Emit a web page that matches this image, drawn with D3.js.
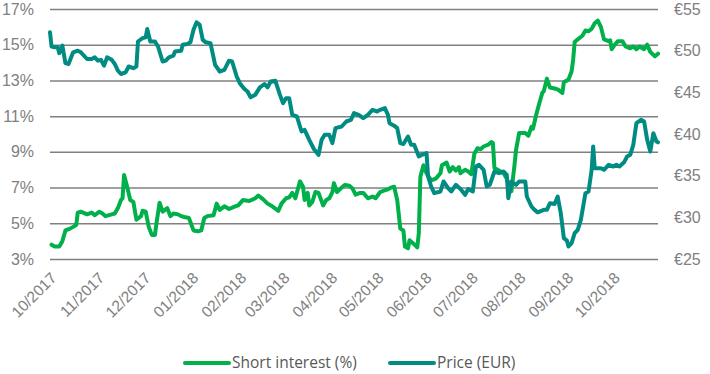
<!DOCTYPE html>
<html>
<head>
  <meta charset="utf-8">
  <style>
body {
  margin: 0;
  background: #fff;
}

svg {
  font-family: "Open Sans", sans-serif;
}

.grid line {
  stroke: #808080;
  stroke-width: 1.5;
}

.axis text {
  fill: #808080;
  font-size: 16px;
}

.month text {
  font-size: 15.5px;
}

.legend text {
  fill: #595959;
  font-size: 15.5px;
}
  </style>
</head>
<body>
  <svg id="chart" width="710" height="374"></svg>
  <script src="https://cdn.jsdelivr.net/npm/d3@7"></script>
  <script>
// Short interest (%)
var shortDates = [
  "2017-10-02","2017-10-04","2017-10-07","2017-10-09","2017-10-11","2017-10-14","2017-10-16","2017-10-18",
  "2017-10-19","2017-10-21","2017-10-25","2017-10-28","2017-10-30","2017-11-02","2017-11-04","2017-11-06",
  "2017-11-10","2017-11-12","2017-11-14","2017-11-16","2017-11-17","2017-11-18","2017-11-20","2017-11-22",
  "2017-11-24","2017-11-26","2017-11-29","2017-11-30","2017-12-02","2017-12-04","2017-12-06","2017-12-08",
  "2017-12-09","2017-12-11","2017-12-13","2017-12-16","2017-12-18","2017-12-20","2017-12-23","2017-12-25",
  "2017-12-27","2017-12-30","2018-01-02","2018-01-05","2018-01-07","2018-01-09","2018-01-11","2018-01-15",
  "2018-01-17","2018-01-19","2018-01-22","2018-01-25","2018-01-29","2018-01-31","2018-02-03","2018-02-07",
  "2018-02-11","2018-02-13","2018-02-16","2018-02-19","2018-02-22","2018-02-26","2018-02-28","2018-03-03",
  "2018-03-05","2018-03-07","2018-03-09","2018-03-12","2018-03-14","2018-03-15","2018-03-17","2018-03-18",
  "2018-03-20","2018-03-22","2018-03-24","2018-03-27","2018-03-29","2018-03-31","2018-04-02","2018-04-03",
  "2018-04-05","2018-04-08","2018-04-10","2018-04-13","2018-04-15","2018-04-17","2018-04-20","2018-04-22",
  "2018-04-25","2018-04-28","2018-04-30","2018-05-03","2018-05-06","2018-05-08","2018-05-10","2018-05-12",
  "2018-05-14","2018-05-16","2018-05-18","2018-05-19","2018-05-21","2018-05-22","2018-05-24","2018-05-27",
  "2018-05-28","2018-05-29","2018-05-31","2018-06-02","2018-06-05","2018-06-08","2018-06-11","2018-06-12",
  "2018-06-15","2018-06-17","2018-06-19","2018-06-21","2018-06-23","2018-06-24","2018-06-27","2018-06-29",
  "2018-07-01","2018-07-03","2018-07-05","2018-07-07","2018-07-09","2018-07-12","2018-07-14","2018-07-15",
  "2018-07-16","2018-07-18","2018-07-22","2018-07-24","2018-07-25","2018-07-27","2018-07-29","2018-07-30",
  "2018-08-01","2018-08-05","2018-08-07","2018-08-09","2018-08-10","2018-08-12","2018-08-14","2018-08-16",
  "2018-08-17","2018-08-19","2018-08-21","2018-08-24","2018-08-26","2018-08-29","2018-08-30","2018-09-02",
  "2018-09-04","2018-09-05","2018-09-06","2018-09-08","2018-09-11","2018-09-13","2018-09-15","2018-09-17",
  "2018-09-19","2018-09-21","2018-09-23","2018-09-25","2018-09-28","2018-09-29","2018-09-30","2018-10-02",
  "2018-10-04","2018-10-07","2018-10-09","2018-10-12","2018-10-14","2018-10-16","2018-10-18","2018-10-21",
  "2018-10-23","2018-10-25","2018-10-28","2018-10-30"
];
var shortPct = [
  3.8, 3.7, 3.7, 4.0, 4.6, 4.7, 4.8, 4.9,
  5.6, 5.65, 5.5, 5.6, 5.45, 5.65, 5.55, 5.4,
  5.5, 5.55, 5.85, 6.3, 6.4, 7.7, 7.05, 6.3,
  6.2, 5.2, 5.4, 5.7, 5.65, 4.8, 4.35, 4.35,
  5.0, 6.15, 5.65, 5.85, 5.4, 5.55, 5.5, 5.4,
  5.35, 5.3, 4.6, 4.55, 4.6, 5.3, 5.4, 5.45,
  6.1, 5.75, 5.95, 5.8, 5.95, 6.0, 6.3, 6.25,
  6.4, 6.55, 6.35, 6.1, 5.95, 5.7, 6.1, 6.4,
  6.45, 6.7, 6.4, 7.35, 7.05, 6.3, 6.7, 6.0,
  6.2, 6.75, 6.7, 6.0, 6.3, 6.4, 6.75, 7.25,
  6.75, 7.0, 7.15, 7.1, 6.95, 6.6, 6.7, 6.7,
  6.4, 6.5, 6.4, 6.75, 6.85, 6.9, 7.0, 7.05,
  6.3, 4.7, 4.6, 3.7, 3.6, 4.05, 3.9, 3.65,
  4.45, 7.6, 8.25, 7.8, 7.4, 7.5, 7.8, 8.25,
  8.4, 7.9, 8.15, 7.95, 8.15, 7.8, 8.0, 7.9,
  7.75, 8.9, 9.2, 9.15, 9.3, 9.4, 9.55, 9.5,
  8.1, 8.0, 7.8, 7.5, 7.25, 6.8, 8.25, 9.1,
  10.05, 10.05, 9.9, 10.4, 10.3, 11.05, 11.7, 12.3,
  12.4, 13.1, 12.6, 12.55, 12.5, 12.3, 12.9, 13.05,
  13.5, 14.15, 15.15, 15.3, 15.5, 15.8, 15.75, 15.9,
  16.2, 16.35, 16.0, 15.3, 15.2, 15.25, 14.75, 15.0,
  15.2, 15.2, 14.9, 14.8, 14.9, 14.75, 14.9, 14.75,
  15.0, 14.6, 14.35, 14.5
];

// Price (EUR)
var priceDates = [
  "2017-10-01","2017-10-02","2017-10-04","2017-10-06","2017-10-07","2017-10-09","2017-10-11","2017-10-13",
  "2017-10-16","2017-10-19","2017-10-21","2017-10-25","2017-10-28","2017-10-30","2017-11-01","2017-11-03",
  "2017-11-05","2017-11-07","2017-11-10","2017-11-12","2017-11-14","2017-11-16","2017-11-19","2017-11-21",
  "2017-11-24","2017-11-26","2017-11-27","2017-11-30","2017-12-02","2017-12-03","2017-12-05","2017-12-08",
  "2017-12-10","2017-12-13","2017-12-15","2017-12-17","2017-12-20","2017-12-21","2017-12-25","2017-12-26",
  "2017-12-29","2017-12-31","2018-01-02","2018-01-04","2018-01-06","2018-01-08","2018-01-10","2018-01-13",
  "2018-01-16","2018-01-19","2018-01-22","2018-01-25","2018-01-27","2018-01-30","2018-02-01","2018-02-04",
  "2018-02-06","2018-02-08","2018-02-11","2018-02-14","2018-02-17","2018-02-19","2018-02-21","2018-02-24",
  "2018-02-27","2018-03-01","2018-03-03","2018-03-05","2018-03-07","2018-03-10","2018-03-13","2018-03-15",
  "2018-03-18","2018-03-21","2018-03-24","2018-03-26","2018-03-28","2018-03-31","2018-04-02","2018-04-04",
  "2018-04-08","2018-04-11","2018-04-14","2018-04-16","2018-04-19","2018-04-22","2018-04-25","2018-04-28",
  "2018-05-01","2018-05-03","2018-05-06","2018-05-08","2018-05-09","2018-05-12","2018-05-14","2018-05-16",
  "2018-05-18","2018-05-21","2018-05-23","2018-05-25","2018-05-28","2018-05-30","2018-06-02","2018-06-03",
  "2018-06-05","2018-06-07","2018-06-11","2018-06-13","2018-06-16","2018-06-18","2018-06-21","2018-06-24",
  "2018-06-27","2018-06-29","2018-07-02","2018-07-04","2018-07-06","2018-07-09","2018-07-11","2018-07-13",
  "2018-07-16","2018-07-19","2018-07-22","2018-07-24","2018-07-25","2018-07-27","2018-07-30","2018-08-01",
  "2018-08-05","2018-08-06","2018-08-09","2018-08-11","2018-08-13","2018-08-17","2018-08-19","2018-08-21",
  "2018-08-24","2018-08-26","2018-08-28","2018-08-30","2018-09-01","2018-09-02","2018-09-04","2018-09-06",
  "2018-09-08","2018-09-10","2018-09-13","2018-09-15","2018-09-17","2018-09-18","2018-09-19","2018-09-23",
  "2018-09-25","2018-09-28","2018-10-01","2018-10-03","2018-10-05","2018-10-08","2018-10-10","2018-10-12",
  "2018-10-14","2018-10-16","2018-10-19","2018-10-21","2018-10-23","2018-10-25","2018-10-27","2018-10-29",
  "2018-10-30"
];
var priceEur = [
  52.2, 50.5, 50.4, 50.4, 49.7, 50.6, 48.5, 48.4,
  49.8, 50.0, 49.8, 49.0, 49.0, 49.2, 48.8, 48.9,
  48.2, 49.2, 48.9, 48.4, 47.6, 47.2, 47.4, 48.1,
  47.9, 48.1, 51.1, 51.5, 51.6, 52.6, 51.1, 51.1,
  50.5, 48.7, 48.8, 49.2, 49.4, 49.9, 50.0, 50.7,
  50.8, 51.0, 52.5, 53.4, 53.1, 51.3, 51.0, 50.9,
  48.3, 47.5, 47.7, 48.8, 48.7, 46.9, 46.1, 45.4,
  45.1, 44.4, 44.7, 45.6, 46.0, 45.6, 46.3, 46.4,
  44.7, 43.7, 44.3, 44.3, 42.3, 42.1, 40.3, 40.5,
  39.3, 38.2, 37.5, 39.3, 39.9, 39.9, 38.9, 40.7,
  40.9, 41.5, 41.7, 42.5, 42.3, 41.9, 42.3, 42.9,
  42.7, 42.9, 43.1, 42.3, 41.3, 41.0, 40.7, 38.9,
  38.8, 39.7, 38.7, 38.7, 37.3, 37.5, 37.7, 34.9,
  33.7, 32.9, 33.1, 34.3, 33.5, 33.1, 33.9, 33.4,
  32.7, 33.4, 33.1, 36.1, 36.3, 35.7, 33.7, 33.9,
  35.5, 35.3, 35.5, 35.1, 32.3, 34.3, 33.9, 34.3,
  34.3, 32.5, 31.3, 30.9, 30.6, 30.9, 30.9, 31.7,
  31.6, 32.5, 30.5, 27.5, 27.2, 26.5, 26.9, 28.1,
  28.5, 29.7, 32.9, 33.1, 35.7, 38.5, 35.9, 35.9,
  35.7, 36.3, 36.1, 36.3, 36.1, 36.6, 37.3, 37.5,
  38.7, 41.3, 41.7, 41.5, 39.3, 37.9, 40.1, 39.1,
  39.0
];

// Axis ticks
var pctTicks = [3, 5, 7, 9, 11, 13, 15, 17];
var eurTicks = [25, 30, 35, 40, 45, 50, 55];
var monthTicks = ["2017-10-01","2017-11-01","2017-12-01","2018-01-01","2018-02-01","2018-03-01","2018-04-01",
                  "2018-05-01","2018-06-01","2018-07-01","2018-08-01","2018-09-01","2018-10-01"];

var seriesNames = ["Short interest (%)", "Price (EUR)"];
var seriesColors = ["#00b04a", "#008c82"];

var parseDate = d3.timeParse("%Y-%m-%d");

var svg = d3.select("#chart"),
    margin = {left: 50, right: 52, top: 9, bottom: 115},
    width = +svg.attr("width") - margin.left - margin.right,
    height = +svg.attr("height") - margin.top - margin.bottom;

var g = svg.append("g")
    .attr("transform", "translate(" + margin.left + "," + margin.top + ")");

var x = d3.scaleTime()
    .domain([parseDate("2017-10-01"), parseDate("2018-10-30")])
    .range([0, width]);

var yPct = d3.scaleLinear().domain([3, 17]).range([height, 0]);
var yEur = d3.scaleLinear().domain([25, 55]).range([height, 0]);

// Gridlines + left labels
var left = g.append("g")
    .attr("class", "grid axis")
    .call(d3.axisLeft(yPct)
      .tickValues(pctTicks)
      .tickSize(-width)
      .tickPadding(16)
      .tickFormat(function(d) { return d + "%"; }));
left.select(".domain").remove();

// Right labels
var right = g.append("g")
    .attr("class", "axis")
    .attr("transform", "translate(" + width + ",0)")
    .call(d3.axisRight(yEur)
      .tickValues(eurTicks)
      .tickSize(0)
      .tickPadding(16)
      .tickFormat(function(d) { return "€" + d; }));
right.select(".domain").remove();

// Month labels, rotated
var bottom = g.append("g")
    .attr("class", "axis month")
    .attr("transform", "translate(0," + height + ")")
    .call(d3.axisBottom(x)
      .tickValues(monthTicks.map(parseDate))
      .tickSize(0)
      .tickFormat(d3.timeFormat("%m/%Y")));
bottom.select(".domain").remove();
bottom.selectAll("text")
    .attr("text-anchor", "end")
    .attr("x", 0)
    .attr("y", 0)
    .attr("dy", 0)
    .attr("transform", "translate(7,20) rotate(-45)");

// Lines
var lineShort = d3.line()
    .x(function(d, i) { return x(parseDate(shortDates[i])); })
    .y(function(d) { return yPct(d); });

var linePrice = d3.line()
    .x(function(d, i) { return x(parseDate(priceDates[i])); })
    .y(function(d) { return yEur(d); });

g.append("path")
    .datum(shortPct)
    .attr("fill", "none")
    .attr("stroke", seriesColors[0])
    .attr("stroke-width", 4)
    .attr("stroke-linejoin", "round")
    .attr("stroke-linecap", "round")
    .attr("d", lineShort);

g.append("path")
    .datum(priceEur)
    .attr("fill", "none")
    .attr("stroke", seriesColors[1])
    .attr("stroke-width", 4)
    .attr("stroke-linejoin", "round")
    .attr("stroke-linecap", "round")
    .attr("d", linePrice);

// Legend
var legendX = [185, 390];
var legend = svg.append("g")
    .attr("class", "legend")
    .selectAll("g")
    .data(seriesNames)
    .enter().append("g")
      .attr("transform", function(d, i) { return "translate(" + legendX[i] + ",363)"; });

legend.append("line")
    .attr("x1", 0)
    .attr("x2", 44)
    .attr("stroke", function(d, i) { return seriesColors[i]; })
    .attr("stroke-width", 4)
    .attr("stroke-linecap", "round");

legend.append("text")
    .attr("x", 47)
    .attr("dy", "0.35em")
    .text(function(d) { return d; });
  </script>
</body>
</html>
